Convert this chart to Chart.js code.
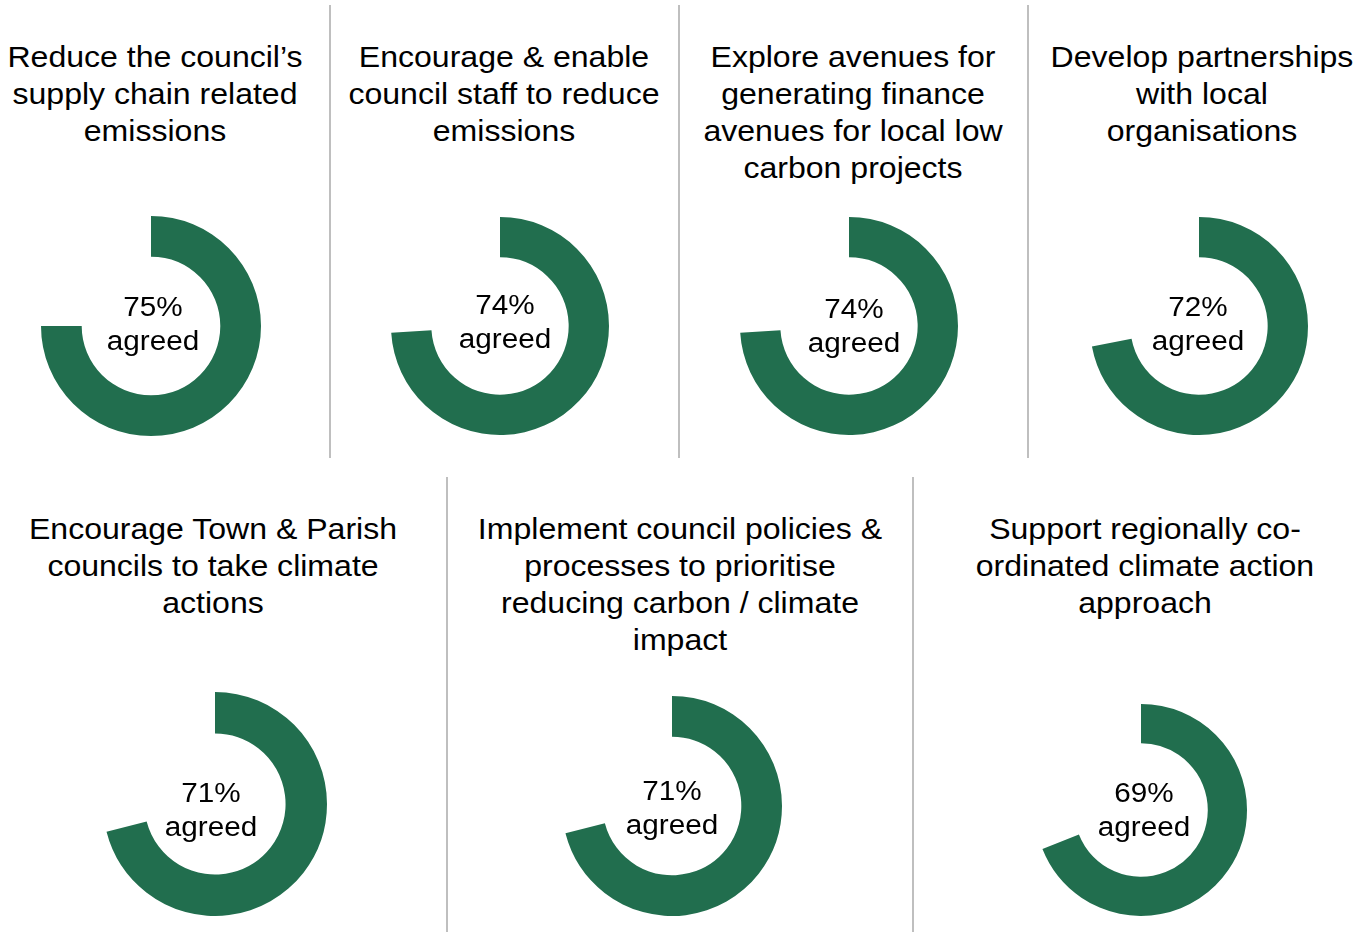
<!DOCTYPE html>
<html>
<head>
<meta charset="utf-8">
<script src="https://cdn.jsdelivr.net/npm/chart.js@4.4.1/dist/chart.umd.min.js"></script>
<style>
  body { margin: 0; background: #fff; }
  #page { position: relative; width: 1371px; height: 932px; font-family: "Liberation Sans", Arial, sans-serif; }
  .title { position: absolute; width: 420px; text-align: center; font-size: 30px; line-height: 37px; color: #000; transform: scaleX(1.068); }
  .divider { position: absolute; width: 2px; background: #bfbfbf; }
  .donut { position: absolute; }
</style>
</head>
<body>
<div id="page"></div>
<script>
//Data
const titles = [
  ["Reduce the council\u2019s", "supply chain related", "emissions"],
  ["Encourage & enable", "council staff to reduce", "emissions"],
  ["Explore avenues for", "generating finance", "avenues for local low", "carbon projects"],
  ["Develop partnerships", "with local", "organisations"],
  ["Encourage Town & Parish", "councils to take climate", "actions"],
  ["Implement council policies &", "processes to prioritise", "reducing carbon / climate", "impact"],
  ["Support regionally co-", "ordinated climate action", "approach"]
];
const agreed = [75, 74, 74, 72, 71, 71, 69];

//Layout (centre x of title, first line centre y, donut centre, radius, label offsets)
const titleX = [155, 504, 853, 1202, 213, 680, 1145];
const titleY = [56, 56, 56, 56, 528, 528, 528];
const donutX = [151, 500, 849, 1199, 215, 672, 1141];
const donutY = [326, 326, 326, 326, 804, 806, 810];
const donutR = [110, 109, 109, 109, 112, 110, 106];
const labelDx = [2, 5, 5, -1, -4, 0, 3];
const labelDy = [0, -2, 2, 0, 8, 4, 2];
const dividers = [[330, 5, 458], [679, 5, 458], [1028, 5, 458], [447, 477, 932], [913, 477, 932]];

const page = document.getElementById("page");

dividers.forEach(d => {
  const el = document.createElement("div");
  el.className = "divider";
  el.style.left = (d[0] - 1) + "px";
  el.style.top = d[1] + "px";
  el.style.height = (d[2] - d[1]) + "px";
  page.appendChild(el);
});

//centre label plugin
const centreLabel = {
  id: "centreLabel",
  afterDraw(chart, args, options) {
    const {ctx, chartArea: {left, right, top, bottom}} = chart;
    const cx = (left + right) / 2 + options.dx;
    const cy = (top + bottom) / 2 + options.dy;
    ctx.save();
    ctx.font = "27px 'Liberation Sans', Arial, sans-serif";
    ctx.fillStyle = "#000";
    ctx.textAlign = "center";
    ctx.textBaseline = "middle";
    ctx.translate(cx, cy);
    ctx.scale(1.1, 1);
    ctx.fillText(options.value + "%", 0, -17);
    ctx.fillText("agreed", 0, 17);
    ctx.restore();
  }
};

titles.forEach((lines, i) => {
  const t = document.createElement("div");
  t.className = "title";
  t.style.left = (titleX[i] - 210) + "px";
  t.style.top = (titleY[i] - 18.5) + "px";
  t.innerHTML = lines.map(s => s.replace(/&/g, "&amp;")).join("<br>");
  page.appendChild(t);

  const box = document.createElement("div");
  box.className = "donut";
  const size = donutR[i] * 2;
  box.style.left = (donutX[i] - donutR[i]) + "px";
  box.style.top = (donutY[i] - donutR[i]) + "px";
  box.style.width = size + "px";
  box.style.height = size + "px";
  const cv = document.createElement("canvas");
  box.appendChild(cv);
  page.appendChild(box);

  new Chart(cv, {
    type: "doughnut",
    data: {
      labels: ["Agreed", "Other"],
      datasets: [{
        data: [agreed[i], 100 - agreed[i]],
        backgroundColor: ["#216e4e", "rgba(0,0,0,0)"],
        borderWidth: 0,
        cutout: "63%"
      }]
    },
    options: {
      responsive: true,
      maintainAspectRatio: false,
      animation: false,
      layout: {padding: 0},
      plugins: {
        legend: {display: false},
        tooltip: {enabled: false},
        centreLabel: {value: agreed[i], dx: labelDx[i], dy: labelDy[i]}
      }
    },
    plugins: [centreLabel]
  });
});
</script>
</body>
</html>
